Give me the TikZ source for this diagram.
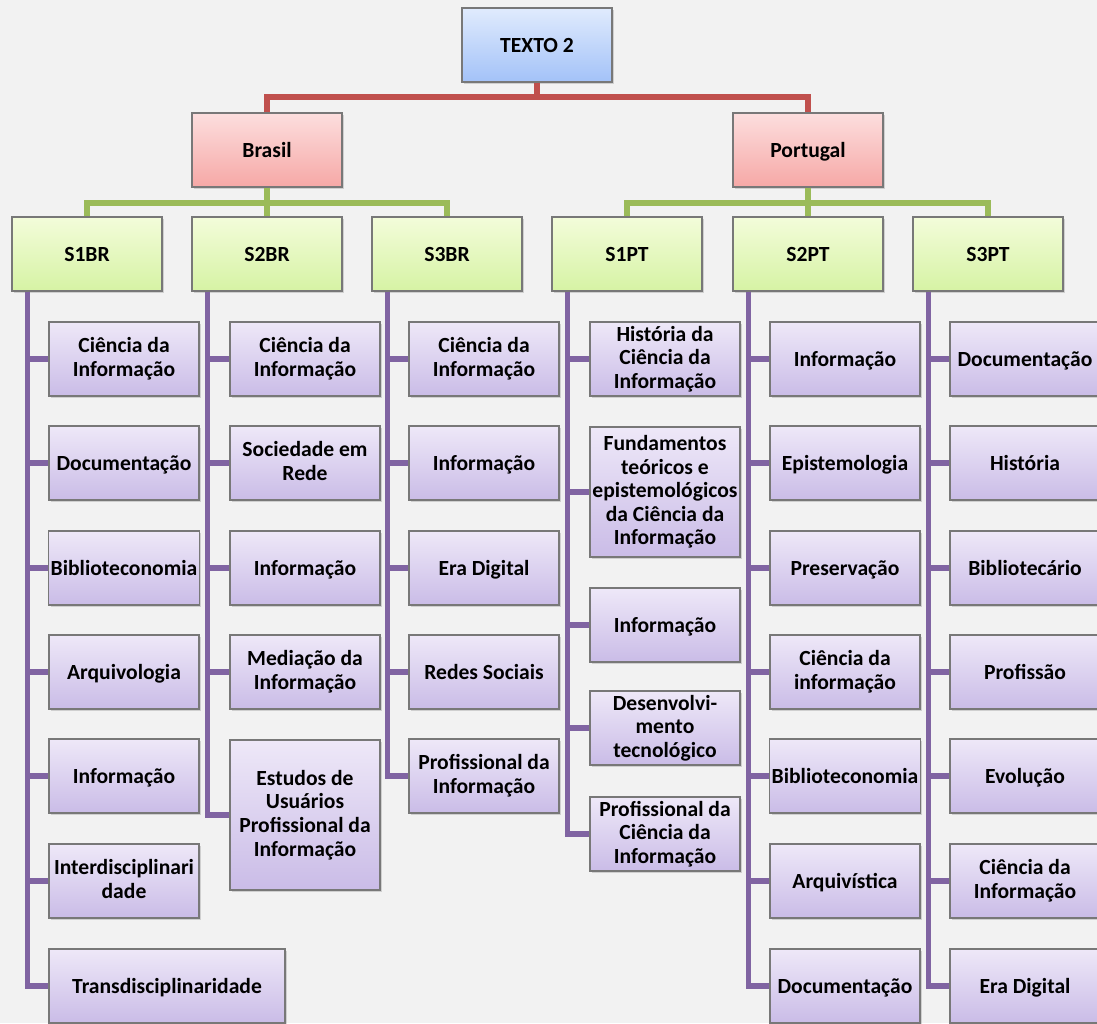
\documentclass[tikz,border=0pt]{standalone}
\usepackage{fontspec}
\setmainfont{Carlito}
\usetikzlibrary{shadows,calc}
\definecolor{BgGray}{RGB}{242,242,242}
\definecolor{BoxLine}{RGB}{120,120,120}
\definecolor{LinkRed}{RGB}{192,80,77}
\definecolor{LinkGreen}{RGB}{155,187,89}
\definecolor{LinkPurple}{RGB}{128,100,162}
\definecolor{BlueTop}{RGB}{224,235,253}
\definecolor{BlueBot}{RGB}{163,194,248}
\definecolor{RedTop}{RGB}{252,222,222}
\definecolor{RedBot}{RGB}{246,168,166}
\definecolor{GreenTop}{RGB}{243,252,218}
\definecolor{GreenBot}{RGB}{214,243,164}
\definecolor{LilacTop}{RGB}{238,232,248}
\definecolor{LilacBot}{RGB}{202,188,231}

\begin{document}
\begin{tikzpicture}[x=0.5pt,y=-0.5pt,
    box/.style={draw=BoxLine,line width=0.6pt,minimum width=75pt,minimum height=37pt,
      align=center,inner sep=1pt,font=\fontsize{10.8}{11.8}\selectfont\bfseries,
      execute at begin node=\vphantom{Ê},execute at end node=\vphantom{g},
      drop shadow={shadow xshift=1pt,shadow yshift=-1.2pt,opacity=0.3}},
    topbox/.style={box,top color=BlueTop,bottom color=BlueBot},
    land/.style={box,top color=RedTop,bottom color=RedBot},
    serie/.style={box,top color=GreenTop,bottom color=GreenBot},
    leaf/.style={box,top color=LilacTop,bottom color=LilacBot},
    rlink/.style={LinkRed,line width=2.6pt},
    glink/.style={LinkGreen,line width=2.6pt},
    plink/.style={LinkPurple,line width=2.6pt}]
  \fill[BgGray] (0,0) rectangle (1097,1023);
  \useasboundingbox (0,0) rectangle (1097,1023);

  % nivel superior
  \node[topbox] (texto) at (537,45) {TEXTO 2};
  \node[land] (brasil) at (267,150) {Brasil};
  \node[land] (portugal) at (808,150) {Portugal};
  \coordinate (rj) at (537,97);
  \draw[rlink] (texto.south) -- (rj);
  \draw[rlink] (brasil.north) |- (rj) -| (portugal.north);

  % subconjuntos
  \node[serie] (s1br) at (87,254) {S1BR};
  \node[serie] (s2br) at (267,254) {S2BR};
  \node[serie] (s3br) at (447,254) {S3BR};
  \node[serie] (s1pt) at (627,254) {S1PT};
  \node[serie] (s2pt) at (808,254) {S2PT};
  \node[serie] (s3pt) at (988,254) {S3PT};
  \coordinate (bj) at (267,203);
  \coordinate (pj) at (808,203);
  \draw[glink] (brasil.south) -- (s2br.north);
  \draw[glink] (s1br.north) |- (bj) -| (s3br.north);
  \draw[glink] (portugal.south) -- (s2pt.north);
  \draw[glink] (s1pt.north) |- (pj) -| (s3pt.north);

  % troncos
  \foreach \s in {s1br,s2br,s3br,s1pt,s2pt,s3pt}
    \coordinate (t\s) at ([xshift=8pt]\s.south west);

  % S1BR
  \foreach \i/\y/\txt in {1/359/{Ciência da\\Informação},2/463/Documentação,
      3/568/Biblioteconomia,4/672/Arquivologia,5/776/Informação,
      6/881/{Interdisciplinari\\dade}}
    \node[leaf] (s1br-\i) at (124,\y) {\txt};
  \node[leaf,minimum width=118pt] (s1br-7) at (167,986) {Transdisciplinaridade};
  \foreach \i in {1,...,7}
    \draw[plink] (ts1br) |- (s1br-\i.west);

  % S2BR
  \foreach \i/\y/\txt in {1/359/{Ciência da\\Informação},2/463/{Sociedade em\\Rede},
      3/568/Informação,4/672/{Mediação da\\Informação}}
    \node[leaf] (s2br-\i) at (305,\y) {\txt};
  \node[leaf,minimum height=75pt] (s2br-5) at (305,815)
    {Estudos de\\Usuários\\Profissional da\\Informação};
  \foreach \i in {1,...,5}
    \draw[plink] (ts2br) |- (s2br-\i.west);

  % S3BR
  \foreach \i/\y/\txt in {1/359/{Ciência da\\Informação},2/463/Informação,
      3/568/Era Digital,4/672/Redes Sociais,5/776/{Profissional da\\Informação}}
    \node[leaf] (s3br-\i) at (484,\y) {\txt};
  \foreach \i in {1,...,5}
    \draw[plink] (ts3br) |- (s3br-\i.west);

  % S1PT
  \node[leaf] (s1pt-1) at (665,359) {História da\\Ciência da\\Informação};
  \node[leaf,minimum height=65pt] (s1pt-2) at (665,492)
    {Fundamentos\\teóricos e\\epistemológicos\\da Ciência da\\Informação};
  \node[leaf] (s1pt-3) at (665,625) {Informação};
  \node[leaf] (s1pt-4) at (665,728) {Desenvolvi-\\mento\\tecnológico};
  \node[leaf] (s1pt-5) at (665,834) {Profissional da\\Ciência da\\Informação};
  \foreach \i in {1,...,5}
    \draw[plink] (ts1pt) |- (s1pt-\i.west);

  % S2PT
  \foreach \i/\y/\txt in {1/359/Informação,2/463/Epistemologia,3/568/Preservação,
      4/672/{Ciência da\\informação},5/776/Biblioteconomia,6/881/Arquivística,
      7/986/Documentação}
    \node[leaf] (s2pt-\i) at (845,\y) {\txt};
  \foreach \i in {1,...,7}
    \draw[plink] (ts2pt) |- (s2pt-\i.west);

  % S3PT
  \foreach \i/\y/\txt in {1/359/Documentação,2/463/História,3/568/Bibliotecário,
      4/672/Profissão,5/776/Evolução,6/881/{Ciência da\\Informação},
      7/986/Era Digital}
    \node[leaf] (s3pt-\i) at (1025,\y) {\txt};
  \foreach \i in {1,...,7}
    \draw[plink] (ts3pt) |- (s3pt-\i.west);
\end{tikzpicture}
\end{document}
